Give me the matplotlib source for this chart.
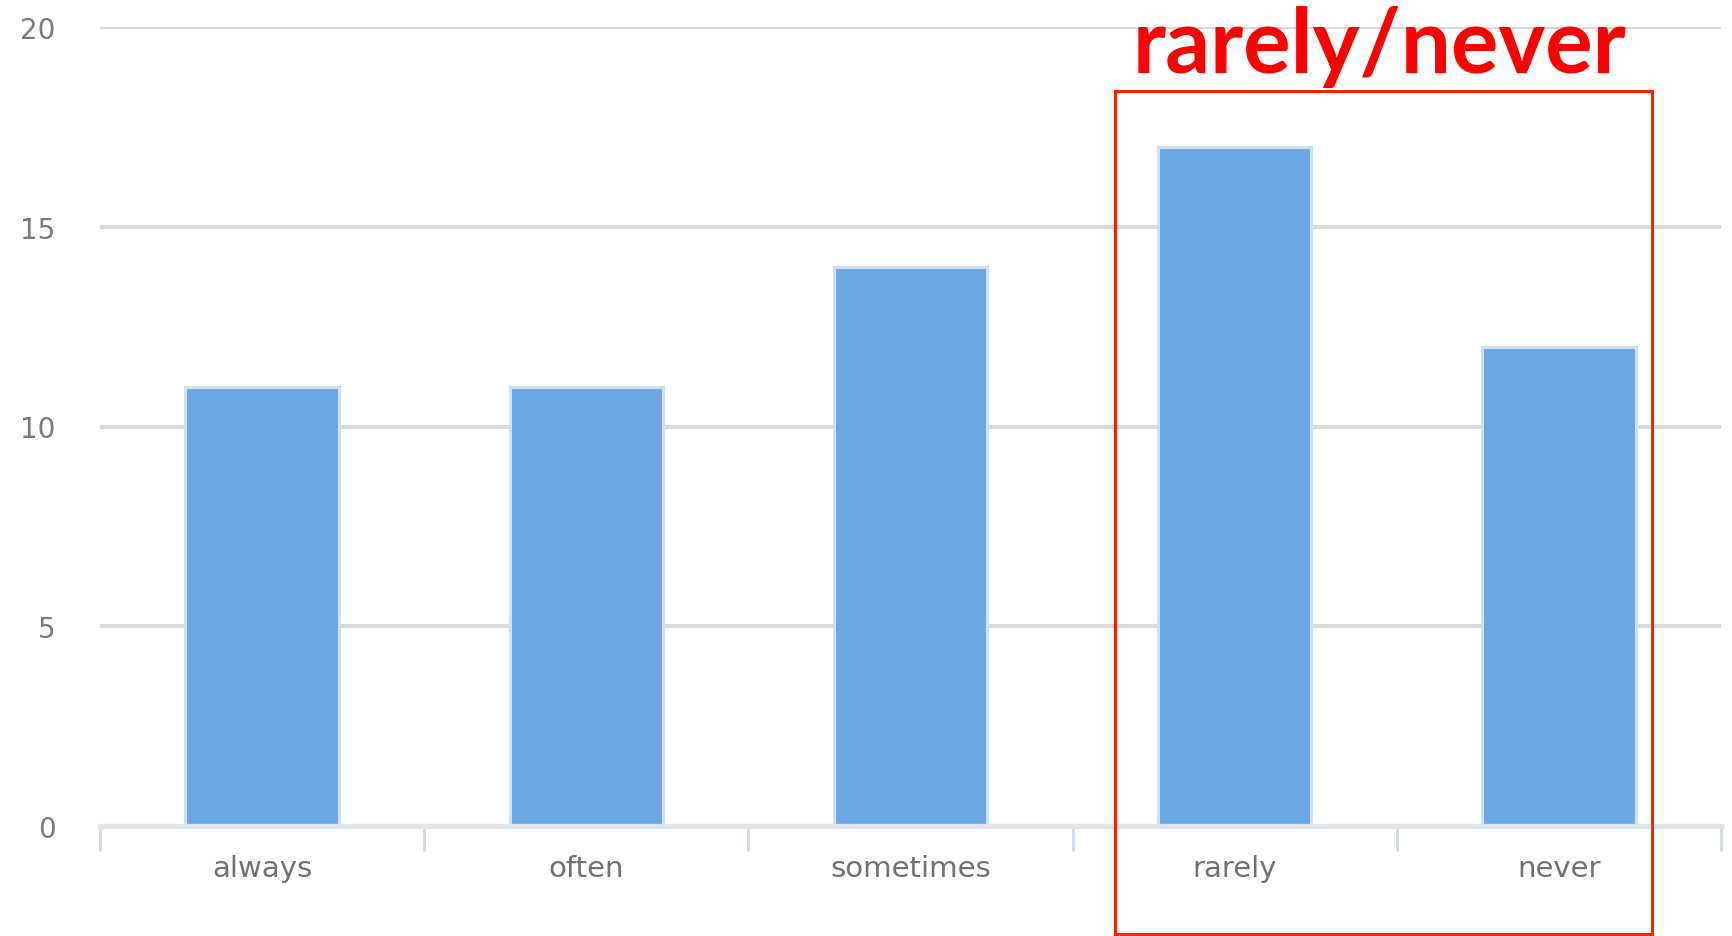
import numpy as np
import matplotlib
matplotlib.use("Agg")
import matplotlib.pyplot as plt
from matplotlib.patches import Rectangle

categories = ["always", "often", "sometimes", "rarely", "never"]
counts = [11, 11, 14, 17, 12]
yticks = [0, 5, 10, 15, 20]
callout = "rarely/never"

W, H = 1732, 937
fig = plt.figure(figsize=(W / 100, H / 100), dpi=100)
fig.patch.set_facecolor("white")

# axes box in pixels: left 100, right 1721, baseline 827, top 28
ax = fig.add_axes([100 / W, (H - 827) / H, 1621 / W, (827 - 28) / H])
ax.set_xlim(-0.5, len(categories) - 0.5)
ax.set_ylim(0, 20)

x = np.arange(len(categories))
ax.bar(x, counts, width=0.473, color="#6ba6e5", edgecolor="#cfe2f5",
       linewidth=2.2, zorder=3)

# horizontal grid
ax.set_yticks(yticks)
ax.yaxis.grid(True, color="#d9d9d9", linewidth=2.9, zorder=0)
ax.set_axisbelow(True)

for s in ["top", "right", "left"]:
    ax.spines[s].set_visible(False)
ax.spines["bottom"].set_color("#dde4ed")
ax.spines["bottom"].set_linewidth(3.8)
ax.spines["bottom"].set_zorder(4)

ax.tick_params(axis="y", length=0, pad=32, labelsize=20, labelcolor="#7a7a7a")

# category labels at centres, separator ticks at the boundaries
ax.set_xticks(x)
ax.set_xticklabels(categories)
ax.set_xticks(np.arange(len(categories) + 1) - 0.5, minor=True)
ax.tick_params(axis="x", which="major", length=0, pad=20, labelsize=21,
               labelcolor="#707070")
ax.tick_params(axis="x", which="minor", length=18, width=2.2, color="#d3dbe4")

# red callout box and heading
fig.add_artist(Rectangle((1115 / W, 2 / H), (1652 - 1115) / W, (935 - 92) / H,
                         transform=fig.transFigure, fill=False,
                         edgecolor="#ff2200", linewidth=2.2, zorder=10))
fig.text(1133 / W, (H - 73) / H, callout, ha="left", va="baseline",
         fontsize=64, fontweight="bold", family=["Lato", "DejaVu Sans"],
         color="#ff0000", zorder=11)

fig.savefig("out.png", dpi=100)
